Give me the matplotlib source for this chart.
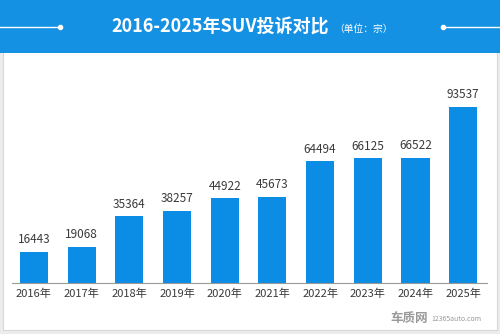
import matplotlib
matplotlib.use("Agg")
import matplotlib.pyplot as plt
import matplotlib.patches as mpatches
from matplotlib.lines import Line2D

plt.rcParams['font.family'] = ['Noto Sans CJK SC', 'DejaVu Sans']

years = ['2016年', '2017年', '2018年', '2019年', '2020年',
         '2021年', '2022年', '2023年', '2024年', '2025年']
complaints = [16443, 19068, 35364, 38257, 44922, 45673, 64494, 66125, 66522, 93537]

blue = '#0b8de6'

fig = plt.figure(figsize=(5, 3.34), dpi=100)
fig.patch.set_facecolor('#ececec')

# белая панель и синяя шапка
fig.add_artist(mpatches.Rectangle((0.006, 0.012), 0.988, 0.835, transform=fig.transFigure,
                                  facecolor='white', edgecolor='#d8d8d8', lw=0.8, zorder=-2))
fig.add_artist(mpatches.Rectangle((0, 0.841), 1, 0.159, transform=fig.transFigure,
                                  facecolor='#1591e4', edgecolor='none', zorder=-1))

# линии с точками по бокам заголовка
yl = 1 - 27 / 334
fig.add_artist(Line2D([0, 0.12], [yl, yl], transform=fig.transFigure, color='white', lw=1))
fig.add_artist(Line2D([0.886, 1], [yl, yl], transform=fig.transFigure, color='white', lw=1))
fig.add_artist(Line2D([0.12, 0.886], [yl, yl], transform=fig.transFigure, ls='none',
                      marker='o', ms=3, color='white'))

fig.text(0.441, yl, '2016-2025年SUV投诉对比', color='white', fontsize=13,
         fontweight='bold', ha='center', va='center')
fig.text(0.668, yl - 0.006, '（单位：宗）', color='white', fontsize=7,
         ha='left', va='center')

ax = fig.add_axes([0.024, 0.1527, 0.95, 0.5644])
x = range(len(years))
bars = ax.bar(x, complaints, width=0.59, color=blue)
for i, v in enumerate(complaints):
    ax.annotate(str(v), (i, v), xytext=(0, 4), textcoords='offset points',
                ha='center', va='bottom', fontsize=8.5, color='#3a3a3a')

ax.set_xlim(-0.46, 9.5)
ax.set_ylim(0, 100000)
ax.set_xticks(list(x))
ax.set_xticklabels(years, fontsize=8, color='#3a3a3a')
ax.tick_params(axis='x', length=0, pad=4)
ax.set_yticks([])
for s in ['top', 'left', 'right']:
    ax.spines[s].set_visible(False)
ax.spines['bottom'].set_color('#999999')
ax.spines['bottom'].set_linewidth(0.8)
ax.set_facecolor('none')

# водяной знак
fig.text(0.855, 0.028, '车质网', color='#9a9a9a', fontsize=9, fontweight='bold',
         ha='right', va='bottom')
fig.text(0.862, 0.032, '12365auto.com', color='#9a9a9a', fontsize=5,
         ha='left', va='bottom')

fig.savefig('out.png', dpi=100)
